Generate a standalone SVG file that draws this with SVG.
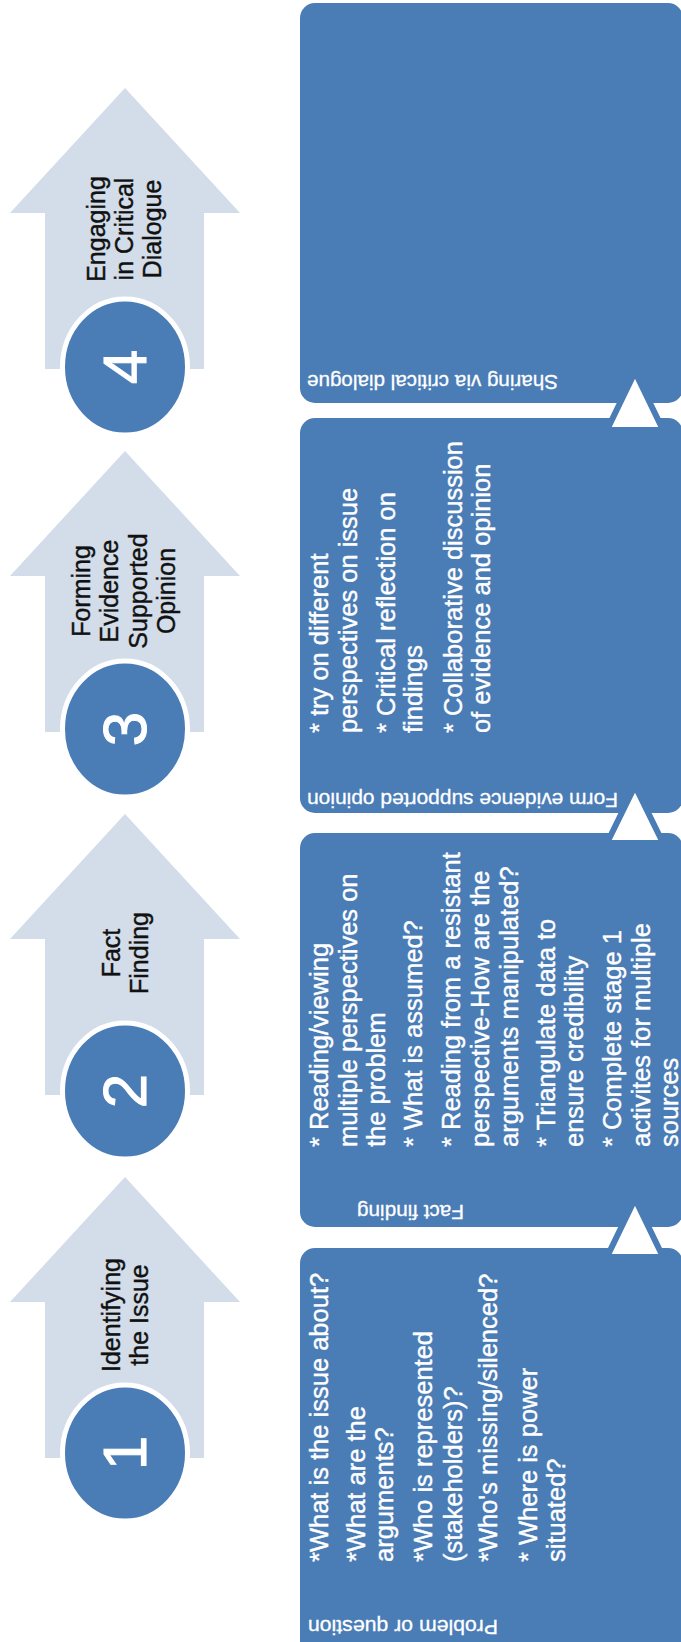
<svg xmlns="http://www.w3.org/2000/svg" width="681" height="1642" viewBox="0 0 681 1642">
<style>
.arrow{fill:#D3DCE9}
.badge{fill:#4A7CB6;stroke:#fff;stroke-width:5}
.num{font-family:"Liberation Sans",Arial,sans-serif;font-size:62px;fill:#fff;text-anchor:middle;stroke:#fff;stroke-width:1}
.lbl{font-family:"Liberation Sans",Arial,sans-serif;font-size:25px;fill:#111;text-anchor:middle;stroke:#111;stroke-width:0.4}
.box{fill:#4A7CB6}
.hdr{font-family:"Liberation Sans",Arial,sans-serif;font-size:21px;fill:#fff;text-anchor:middle;stroke:#fff;stroke-width:0.3}
.bul{font-family:"Liberation Sans",Arial,sans-serif;font-size:25.5px;fill:#fff;stroke:#fff;stroke-width:0.4}
.tri{fill:#fff;stroke:#4A7CB6;stroke-width:6;stroke-linejoin:miter}
</style>
<rect width="681" height="1642" fill="#fff"/>

<g id="step4">
<path class="arrow" d="M125,88 L240,213 L204,213 L204,369 L45,369 L45,213 L10,213 Z"/>
<ellipse class="badge" cx="125" cy="367" rx="62.5" ry="68"/>
<text class="num" transform="rotate(-90)" x="-367" y="146">4</text>
<text class="lbl" transform="rotate(-90)"><tspan x="-229" y="105">Engaging</tspan><tspan x="-229" y="133">in Critical</tspan><tspan x="-229" y="161">Dialogue</tspan></text>
</g>

<g id="step3">
<path class="arrow" d="M125,451 L240,576 L204,576 L204,732 L45,732 L45,576 L10,576 Z"/>
<ellipse class="badge" cx="125" cy="729" rx="62.5" ry="68"/>
<text class="num" transform="rotate(-90)" x="-729" y="146">3</text>
<text class="lbl" transform="rotate(-90)"><tspan x="-591" y="90">Forming</tspan><tspan x="-591" y="118">Evidence</tspan><tspan x="-591" y="147">Supported</tspan><tspan x="-591" y="175">Opinion</tspan></text>
</g>

<g id="step2">
<path class="arrow" d="M125,814 L240,939 L204,939 L204,1095 L45,1095 L45,939 L10,939 Z"/>
<ellipse class="badge" cx="125" cy="1091" rx="62.5" ry="68"/>
<text class="num" transform="rotate(-90)" x="-1091" y="146">2</text>
<text class="lbl" transform="rotate(-90)"><tspan x="-953" y="120">Fact</tspan><tspan x="-953" y="148">Finding</tspan></text>
</g>

<g id="step1">
<path class="arrow" d="M125,1177 L240,1302 L204,1302 L204,1458 L45,1458 L45,1302 L10,1302 Z"/>
<ellipse class="badge" cx="125" cy="1453" rx="62.5" ry="68"/>
<text class="num" transform="rotate(-90)" x="-1453" y="146">1</text>
<text class="lbl" transform="rotate(-90)"><tspan x="-1315" y="120">Identifying</tspan><tspan x="-1315" y="148">the Issue</tspan></text>
</g>

<g id="box-sharing">
<rect class="box" x="300" y="3" width="383" height="400" rx="15"/>
<text class="hdr" transform="rotate(180)" x="-432.5" y="-375" textLength="251" lengthAdjust="spacingAndGlyphs">Sharing via critical dialogue</text>
</g>

<g id="box-form">
<rect class="box" x="300" y="418" width="383" height="395" rx="15"/>
<text class="hdr" transform="rotate(180)" x="-462.5" y="-793" textLength="311" lengthAdjust="spacingAndGlyphs">Form evidence supported opinion</text>
<text class="bul" transform="rotate(-90)">
<tspan x="-733" y="328">* try on different</tspan>
<tspan x="-733" y="357">perspectives on issue</tspan>
<tspan x="-733" y="395">* Critical reflection on</tspan>
<tspan x="-733" y="422">findings</tspan>
<tspan x="-733" y="462">* Collaborative discussion</tspan>
<tspan x="-733" y="490">of evidence and opinion</tspan>
</text>
</g>

<g id="box-fact">
<rect class="box" x="300" y="833" width="383" height="394" rx="15"/>
<text class="hdr" transform="rotate(180)" x="-410.5" y="-1205" textLength="107" lengthAdjust="spacingAndGlyphs">Fact finding</text>
<text class="bul" transform="rotate(-90)">
<tspan x="-1147" y="328">* Reading/viewing</tspan>
<tspan x="-1147" y="357">multiple perspectives on</tspan>
<tspan x="-1147" y="385">the problem</tspan>
<tspan x="-1147" y="422">* What is assumed?</tspan>
<tspan x="-1147" y="460">* Reading from a resistant</tspan>
<tspan x="-1147" y="489">perspective-How are the</tspan>
<tspan x="-1147" y="518">arguments manipulated?</tspan>
<tspan x="-1147" y="555">* Triangulate data to</tspan>
<tspan x="-1147" y="583">ensure credibility</tspan>
<tspan x="-1147" y="621">* Complete stage 1</tspan>
<tspan x="-1147" y="650">activites for multiple</tspan>
<tspan x="-1147" y="678">sources</tspan>
</text>
</g>

<g id="box-problem">
<rect class="box" x="300" y="1248" width="383" height="410" rx="15"/>
<text class="hdr" transform="rotate(180)" x="-403" y="-1620" textLength="190" lengthAdjust="spacingAndGlyphs">Problem or question</text>
<text class="bul" transform="rotate(-90)">
<tspan x="-1562" y="328">*What is the issue about?</tspan>
<tspan x="-1562" y="365">*What are the</tspan>
<tspan x="-1562" y="393">arguments?</tspan>
<tspan x="-1562" y="432">*Who is represented</tspan>
<tspan x="-1562" y="462">(stakeholders)?</tspan>
<tspan x="-1562" y="497">*Who's missing/silenced?</tspan>
<tspan x="-1562" y="537">* Where is power</tspan>
<tspan x="-1562" y="565">situated?</tspan>
</text>
</g>

<g id="connectors">
<polygon class="tri" points="635,1199 663,1257 607,1257"/>
<polygon class="tri" points="635,786 663,843 607,843"/>
<polygon class="tri" points="635,372 663,430 607,430"/>
</g>
</svg>
